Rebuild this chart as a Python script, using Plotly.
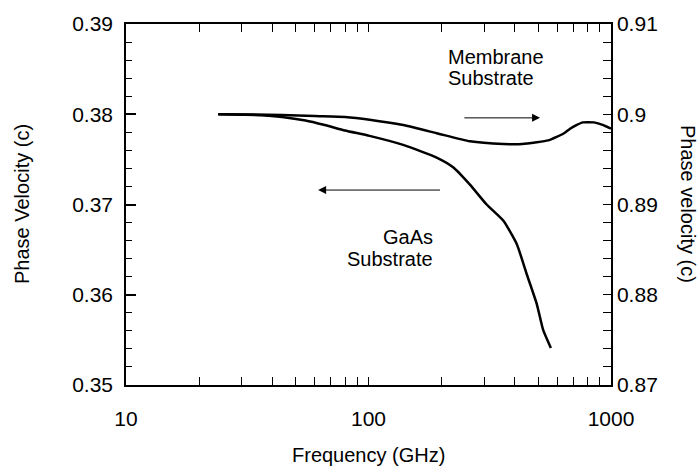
import numpy as np
import plotly.graph_objects as go

# ---- data ----
freq_membrane = [24, 44, 60, 80, 101, 139, 191, 262, 360, 430, 494, 550, 597,
                 640, 678, 720, 765, 850, 930, 1000]
vel_membrane = [0.9000, 0.89993, 0.8998, 0.8997, 0.8994, 0.8988, 0.8979, 0.8970,
                0.8967, 0.8967, 0.8969, 0.8971, 0.8975, 0.8979, 0.8984, 0.8988,
                0.8991, 0.8991, 0.8988, 0.8984]

freq_gaas = [24, 30, 36, 44, 55, 66, 80, 101, 139, 191, 224, 262, 307, 360,
             409, 449, 494, 525, 565]
vel_gaas = [0.3800, 0.37995, 0.3799, 0.3797, 0.3793, 0.3788, 0.3782, 0.3776,
            0.3766, 0.3752, 0.3741, 0.3722, 0.3700, 0.3682, 0.3656, 0.3623,
            0.3590, 0.3561, 0.3541]

x_tickvals = [10, 100, 1000]
x_ticktext = ["10", "100", "1000"]
x_minor = [20, 30, 40, 50, 60, 70, 80, 90, 200, 300, 400, 500, 600, 700, 800, 900]
y_left_ticks = [0.35, 0.36, 0.37, 0.38, 0.39]
y_left_text = ["0.35", "0.36", "0.37", "0.38", "0.39"]
y_right_ticks = [0.87, 0.88, 0.89, 0.90, 0.91]
y_right_text = ["0.87", "0.88", "0.89", "0.9", "0.91"]
y_right_minor = [0.872, 0.874, 0.876, 0.878, 0.882, 0.884, 0.886, 0.888,
                 0.892, 0.894, 0.896, 0.898, 0.902, 0.904, 0.906, 0.908]

FONT = "Liberation Sans, Arial, Helvetica, sans-serif"

# all x ticks (major labelled, minor unlabelled) on the one log axis
x_all_vals = x_tickvals + x_minor
x_all_text = x_ticktext + [""] * len(x_minor)
y2_all_vals = y_right_ticks + y_right_minor
y2_all_text = y_right_text + [""] * len(y_right_minor)

fig = go.Figure()
fig.add_trace(go.Scatter(x=freq_gaas, y=vel_gaas, mode="lines", yaxis="y",
                         line=dict(color="black", width=2.5, shape="spline", smoothing=0.5),
                         showlegend=False))
fig.add_trace(go.Scatter(x=freq_membrane, y=vel_membrane, mode="lines", yaxis="y2",
                         line=dict(color="black", width=2.5, shape="spline", smoothing=0.5),
                         showlegend=False))

tickfont = dict(family=FONT, size=21, color="black")

fig.update_layout(
    width=698, height=469, autosize=False,
    margin=dict(l=126, r=87, t=22, b=84),
    paper_bgcolor="white", plot_bgcolor="white",
    xaxis=dict(type="log", range=[1, 3], tickmode="array",
               tickvals=x_all_vals, ticktext=x_all_text,
               ticks="inside", ticklen=8, tickwidth=1.3, tickcolor="#000000",
               showline=True, linecolor="black", linewidth=1.5, mirror="ticks",
               showgrid=False, zeroline=False, ticklabelstandoff=14,
               tickfont=tickfont),
    yaxis=dict(range=[0.35, 0.39], tickmode="array",
               tickvals=y_left_ticks, ticktext=y_left_text,
               ticks="inside", ticklen=10, tickwidth=1.5, tickcolor="#000000",
               showline=True, linecolor="black", linewidth=1.5,
               showgrid=False, zeroline=False, ticklabelstandoff=7,
               tickfont=tickfont,
               minor=dict(dtick=0.002, ticks="inside", ticklen=6,
                          tickcolor="#000000", tickwidth=1.2)),
    yaxis2=dict(range=[0.87, 0.91], overlaying="y", side="right", tickmode="array",
                tickvals=y2_all_vals, ticktext=y2_all_text,
                ticks="inside", ticklen=8, tickwidth=1.3, tickcolor="#000000",
                showline=True, linecolor="black", linewidth=1.5,
                showgrid=False, zeroline=False, tickfont=tickfont),
)

def px2paper(px, py):
    return (px - 126) / 485, (385 - py) / 363

txt_font = dict(family=FONT, size=20, color="black")
annos = []
for text, px, py, anchor in [("Membrane", 446, 55, "left"), ("Substrate", 446, 76.5, "left"),
                             ("GaAs", 435, 236, "right"), ("Substrate", 435, 258.5, "right")]:
    xp, yp = px2paper(px, py)
    annos.append(dict(text=text, x=xp, y=yp, xref="paper", yref="paper",
                      xanchor=anchor, yanchor="middle", showarrow=False, font=txt_font))

# axis titles
xp, yp = px2paper(368, 455)
annos.append(dict(text="Frequency (GHz)", x=xp, y=yp, xref="paper", yref="paper",
                  xanchor="center", yanchor="middle", showarrow=False, font=txt_font))
xp, yp = px2paper(22, 203)
annos.append(dict(text="Phase Velocity (c)", x=xp, y=yp, xref="paper", yref="paper",
                  textangle=-90, xanchor="center", yanchor="middle", showarrow=False,
                  font=txt_font))
xp, yp = px2paper(688, 203)
annos.append(dict(text="Phase velocity (c)", x=xp, y=yp, xref="paper", yref="paper",
                  textangle=90, xanchor="center", yanchor="middle", showarrow=False,
                  font=txt_font))

# arrows
annos.append(dict(x=np.log10(510), y=0.8996, xref="x", yref="y2",
                  ax=np.log10(245), ay=0.8996, axref="x", ayref="y2",
                  text="", showarrow=True, arrowhead=2, arrowsize=1.6, arrowwidth=1,
                  arrowcolor="black"))
annos.append(dict(x=np.log10(62), y=0.3716, xref="x", yref="y",
                  ax=np.log10(200), ay=0.3716, axref="x", ayref="y",
                  text="", showarrow=True, arrowhead=2, arrowsize=1.6, arrowwidth=1,
                  arrowcolor="black"))

fig.update_layout(annotations=annos)
fig.write_html("out.html")
